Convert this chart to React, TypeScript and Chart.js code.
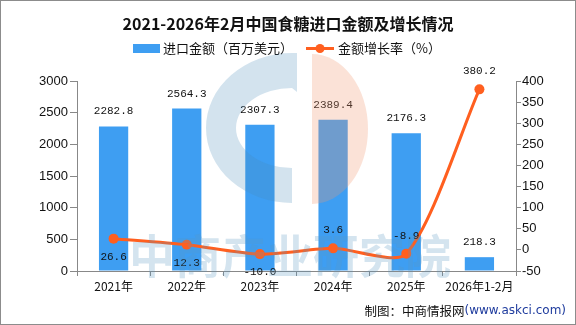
import React, { useEffect, useRef } from "react";
import { Chart, registerables } from "chart.js";

Chart.register(...registerables);

const categories = ["2021年", "2022年", "2023年", "2024年", "2025年", "2026年1-2月"];
const importValues = [2282.8, 2564.3, 2307.3, 2389.4, 2176.3, 218.3];
const growthRates = [26.6, 12.3, -10.0, 3.6, -8.9, 380.2];
const growthLabelAbove = [false, false, false, true, true, true];
const leftTicks = { min: 0, max: 3000, step: 500 };
const rightTicks = { min: -50, max: 400, step: 50 };

const TITLE = "2021-2026年2月中国食糖进口金额及增长情况";
const LEGEND_BAR = "进口金额（百万美元）";
const LEGEND_LINE = "金额增长率（%）";
const FOOTER_A = "制图：中商情报网";
const FOOTER_B = "(www.askci.com)";
const WATERMARK = "中商产业研究院";

const BAR_COLOR = "#3e9ef2";
const LINE_COLOR = "#ff5f1f";
const CJK = '"Noto Sans CJK SC", sans-serif';

const decorPlugin = {
  id: "decor",
  afterDatasetsDraw(chart: any) {
    const ctx = chart.ctx;
    ctx.save();
    ctx.font = '11px "Liberation Mono", monospace';
    ctx.fillStyle = "#111";
    ctx.textAlign = "center";
    ctx.textBaseline = "middle";
    const barMeta = chart.getDatasetMeta(0);
    barMeta.data.forEach((el: any, i: number) => {
      ctx.fillText(importValues[i].toFixed(1), el.x, el.y - 15);
    });
    const lineMeta = chart.getDatasetMeta(1);
    lineMeta.data.forEach((el: any, i: number) => {
      const dy = growthLabelAbove[i] ? -18 : 18;
      ctx.fillText(growthRates[i].toFixed(1), el.x, el.y + dy);
    });
    ctx.restore();
  },
  afterDraw(chart: any) {
    const ctx = chart.ctx;
    ctx.save();
    // title
    ctx.fillStyle = "#111";
    ctx.font = "bold 16px " + CJK;
    ctx.textAlign = "center";
    ctx.textBaseline = "middle";
    ctx.fillText(TITLE, 288, 24);

    // legend
    ctx.fillStyle = BAR_COLOR;
    ctx.fillRect(133, 44, 27, 9);
    ctx.font = "13px " + CJK;
    ctx.textAlign = "left";
    ctx.fillStyle = "#111";
    ctx.fillText(LEGEND_BAR, 163, 48);
    ctx.strokeStyle = LINE_COLOR;
    ctx.lineWidth = 3;
    ctx.beginPath();
    ctx.moveTo(306, 48.5);
    ctx.lineTo(334, 48.5);
    ctx.stroke();
    ctx.fillStyle = LINE_COLOR;
    ctx.beginPath();
    ctx.arc(320, 48.5, 4.5, 0, Math.PI * 2);
    ctx.fill();
    ctx.fillStyle = "#111";
    ctx.fillText(LEGEND_LINE, 338, 48);

    // footer
    ctx.textAlign = "right";
    ctx.fillStyle = "#1f3c9e";
    ctx.font = '12px "DejaVu Sans", sans-serif';
    const wB = ctx.measureText(FOOTER_B).width;
    ctx.fillText(FOOTER_B, 566, 311);
    ctx.fillStyle = "#111";
    ctx.font = "12.5px " + CJK;
    ctx.fillText(FOOTER_A, 566 - wB, 311);

    // watermark
    ctx.fillStyle = "rgba(70,140,185,0.24)";
    ctx.beginPath();
    ctx.ellipse(292, 128, 86, 75, 0, Math.PI / 2, Math.PI * 1.5, false);
    ctx.lineTo(297, 53);
    ctx.lineTo(297, 92);
    ctx.ellipse(292, 128, 56, 40, 0, Math.PI * 1.5, Math.PI / 2, true);
    ctx.lineTo(292, 203);
    ctx.closePath();
    ctx.fill();
    ctx.fillStyle = "rgba(240,150,110,0.28)";
    ctx.beginPath();
    ctx.moveTo(312, 54);
    ctx.ellipse(312, 129, 56, 75, 0, -Math.PI / 2, Math.PI / 2, false);
    ctx.closePath();
    ctx.fill();
    ctx.fillStyle = "rgba(90,150,195,0.26)";
    ctx.font = "bold 46px " + CJK;
    ctx.textAlign = "left";
    ctx.textBaseline = "middle";
    ctx.fillText(WATERMARK, 129, 256);

    // border
    ctx.strokeStyle = "#8c8c8c";
    ctx.lineWidth = 1;
    ctx.strokeRect(0.5, 0.5, 575, 324);
    ctx.restore();
  },
};

export default function App() {
  const ref = useRef<HTMLCanvasElement>(null);
  useEffect(() => {
    document.body.style.margin = "0";
    const canvas = ref.current!;
    const chart = new Chart(canvas, {
      type: "bar",
      data: {
        labels: categories,
        datasets: [
          {
            type: "bar",
            label: LEGEND_BAR,
            data: importValues,
            backgroundColor: BAR_COLOR,
            yAxisID: "y",
            categoryPercentage: 0.8,
            barPercentage: 0.5,
            order: 1,
          },
          {
            type: "line",
            label: LEGEND_LINE,
            data: growthRates,
            borderColor: LINE_COLOR,
            backgroundColor: LINE_COLOR,
            borderWidth: 3,
            pointRadius: 5,
            pointBackgroundColor: LINE_COLOR,
            pointBorderWidth: 0,
            tension: 0.25,
            yAxisID: "y1",
            order: 0,
          } as any,
        ],
      },
      options: {
        responsive: false,
        animation: false,
        devicePixelRatio: 1,
        layout: { padding: { top: 81, left: 0, right: 0, bottom: 0 } },
        plugins: {
          legend: { display: false },
          title: { display: false },
          tooltip: { enabled: false },
        },
        scales: {
          x: {
            grid: { display: true, drawOnChartArea: false, tickLength: 5, color: "#888", offset: true },
            border: { color: "#888" },
            ticks: { color: "#111", font: { family: CJK, size: 12 }, padding: 3, maxRotation: 0 },
            afterFit(scale: any) {
              scale.height = 54;
            },
          },
          y: {
            position: "left",
            min: leftTicks.min,
            max: leftTicks.max,
            ticks: {
              stepSize: leftTicks.step,
              color: "#111",
              font: { family: '"Liberation Sans", sans-serif', size: 13 },
              padding: 2,
              callback: (v: any) => String(v),
            },
            grid: { display: true, drawOnChartArea: false, tickLength: 7, color: "#888" },
            border: { color: "#888" },
            afterFit(scale: any) {
              scale.width = 77;
            },
          },
          y1: {
            position: "right",
            min: rightTicks.min,
            max: rightTicks.max,
            ticks: {
              stepSize: rightTicks.step,
              color: "#111",
              font: { family: '"Liberation Sans", sans-serif', size: 13 },
              padding: 1,
              callback: (v: any) => String(v),
            },
            grid: { display: true, drawOnChartArea: false, tickLength: 5, color: "#888" },
            border: { color: "#888" },
            afterFit(scale: any) {
              scale.width = 60;
            },
          },
        },
      },
      plugins: [decorPlugin],
    });
    return () => chart.destroy();
  }, []);
  return (
    <div style={{ position: "absolute", left: 0, top: 0, width: 576, height: 325, background: "#fff" }}>
      <canvas ref={ref} width={576} height={325} />
    </div>
  );
}
